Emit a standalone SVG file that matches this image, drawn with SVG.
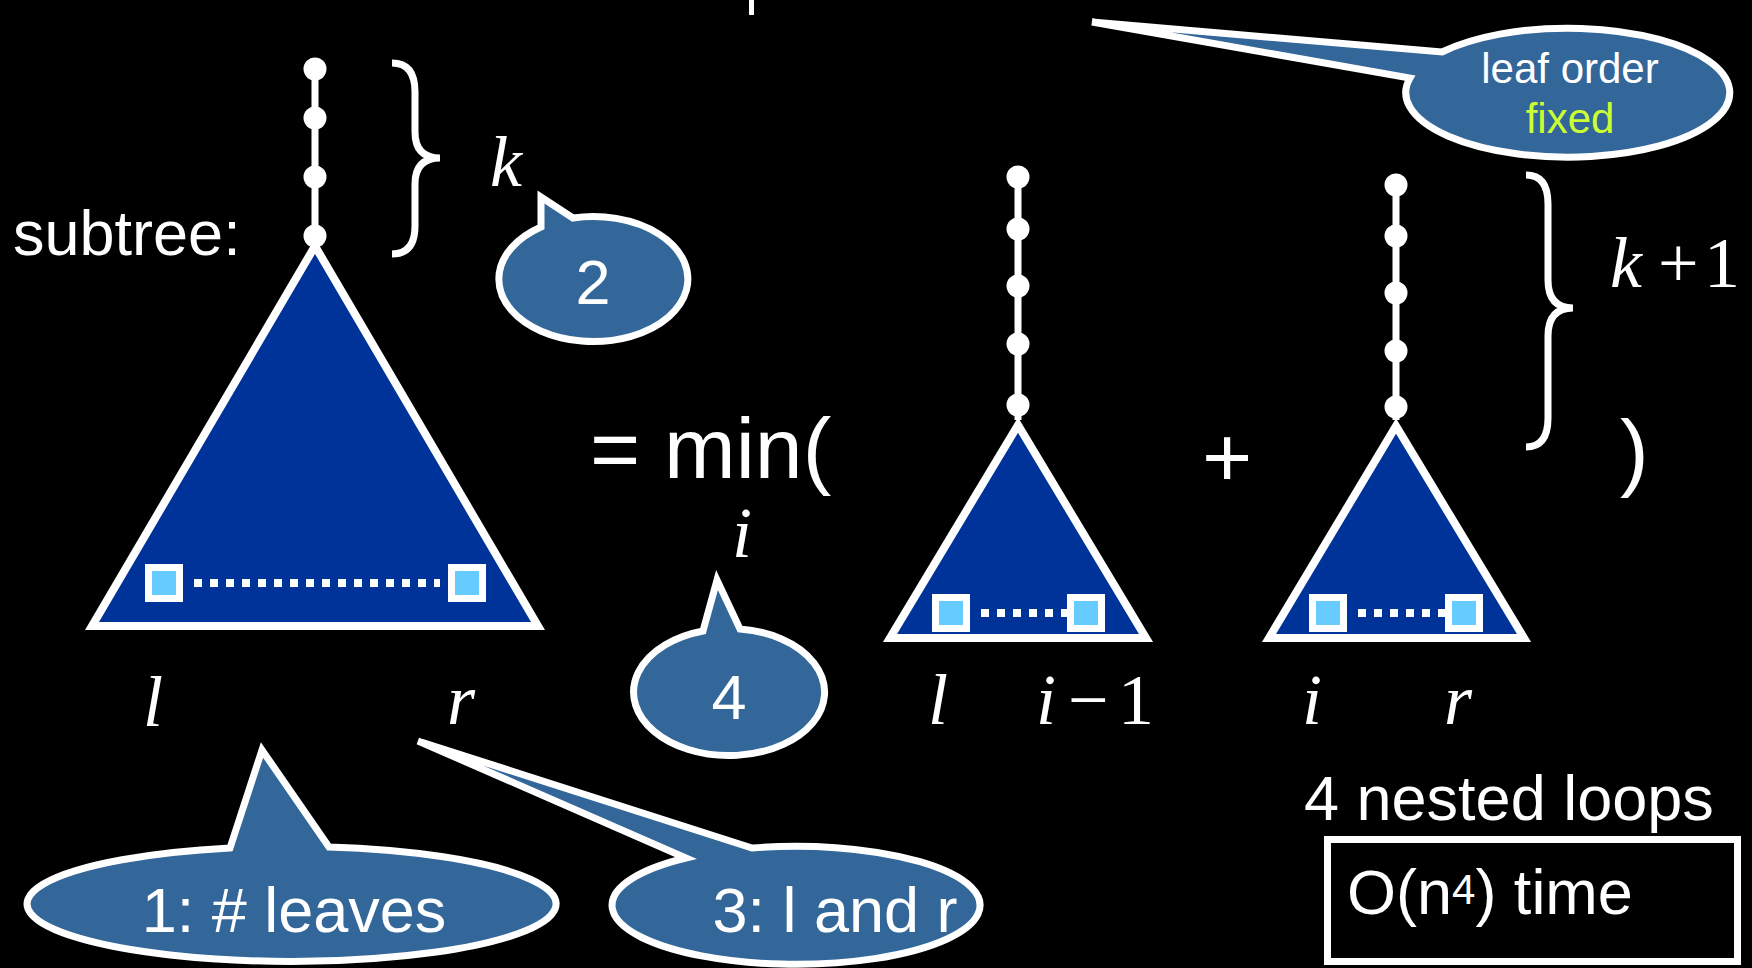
<svg xmlns="http://www.w3.org/2000/svg" width="1752" height="968" viewBox="0 0 1752 968">
<style>
.sans{font-family:"Liberation Sans",Arial,sans-serif;fill:#fff}
.serif{font-family:"Liberation Serif","Times New Roman",serif;fill:#fff;font-size:72px}
.it{font-style:italic}
.tri{fill:#003399;stroke:#fff;stroke-width:8;stroke-linejoin:miter}
.leaf{fill:#66ccff;stroke:#fff;stroke-width:7}
.dots{stroke:#fff;stroke-width:8;stroke-dasharray:8 8;fill:none}
.stem{stroke:#fff;stroke-width:7}
.node{fill:#fff}
.callout{fill:#336699;stroke:#fff;stroke-width:7;stroke-linejoin:miter}
.brace{fill:none;stroke:#fff;stroke-width:7}
</style>
<rect width="1752" height="968" fill="#000"/>
<rect x="749" y="0" width="5" height="15" fill="#fff"/>

<g id="connectors">
  <line class="stem" x1="315" y1="69" x2="315" y2="240"/>
  <line class="stem" x1="1018" y1="177" x2="1018" y2="420"/>
  <line class="stem" x1="1396" y1="185" x2="1396" y2="420"/>
</g>

<g id="tree-main">
  <path class="tri" d="M315,246 L92,626 L538,626 Z"/>
  <circle class="node" cx="315" cy="69" r="11.5"/>
  <circle class="node" cx="315" cy="118" r="11.5"/>
  <circle class="node" cx="315" cy="177" r="11.5"/>
  <circle class="node" cx="315" cy="236" r="11.5"/>
  <line class="dots" x1="194" y1="583" x2="440" y2="583"/>
  <rect class="leaf" x="148.5" y="567.5" width="31" height="31"/>
  <rect class="leaf" x="451.5" y="567.5" width="31" height="31"/>
</g>

<g id="tree-left">
  <path class="tri" d="M1018,425 L890,638 L1146,638 Z"/>
  <circle class="node" cx="1018" cy="177" r="11.5"/>
  <circle class="node" cx="1018" cy="229" r="11.5"/>
  <circle class="node" cx="1018" cy="286" r="11.5"/>
  <circle class="node" cx="1018" cy="344" r="11.5"/>
  <circle class="node" cx="1018" cy="405" r="11.5"/>
  <line class="dots" x1="981" y1="613" x2="1070" y2="613"/>
  <rect class="leaf" x="935.5" y="597.5" width="31" height="31"/>
  <rect class="leaf" x="1070.5" y="597.5" width="31" height="31"/>
</g>

<g id="tree-right">
  <path class="tri" d="M1396,426 L1269,638 L1524,638 Z"/>
  <circle class="node" cx="1396" cy="185" r="11.5"/>
  <circle class="node" cx="1396" cy="236" r="11.5"/>
  <circle class="node" cx="1396" cy="293" r="11.5"/>
  <circle class="node" cx="1396" cy="351" r="11.5"/>
  <circle class="node" cx="1396" cy="407" r="11.5"/>
  <line class="dots" x1="1358" y1="613" x2="1448" y2="613"/>
  <rect class="leaf" x="1312.5" y="597.5" width="31" height="31"/>
  <rect class="leaf" x="1448.5" y="597.5" width="31" height="31"/>
</g>

<g id="braces">
  <path class="brace" d="M392,63 Q415,63 415,92 L415,132 Q415,158 440,158 Q415,158 415,184 L415,226 Q415,254 392,254"/>
  <path class="brace" d="M1526,175 Q1548,175 1548,204 L1548,280 Q1548,308 1573,308 Q1548,308 1548,336 L1548,418 Q1548,447 1526,447"/>
</g>

<g id="labels">
  <text class="sans" x="13" y="255" font-size="63">subtree:</text>
  <text class="serif it" x="490" y="186">k</text>
  <text class="sans" x="590" y="478" font-size="86">= min(</text>
  <text class="serif it" x="732" y="557" font-size="68">i</text>
  <text class="sans" x="1202" y="487" font-size="86">+</text>
  <text class="sans" x="1620" y="480" font-size="86">)</text>
  <text class="serif" y="287"><tspan class="it" x="1610">k</tspan><tspan x="1658">+</tspan><tspan x="1704">1</tspan></text>
  <text class="serif it" x="143" y="726">l</text>
  <text class="serif it" x="447" y="724">r</text>
  <text class="serif" y="724"><tspan class="it" x="928">l</tspan><tspan class="it" x="1036">i</tspan><tspan x="1068">−</tspan><tspan x="1118">1</tspan></text>
  <text class="serif it" x="1302" y="724">i</text>
  <text class="serif it" x="1444" y="724">r</text>
  <text class="sans" x="1304" y="820" font-size="63">4 nested loops</text>
</g>

<g id="complexity-box">
  <rect x="1327.5" y="839.5" width="410" height="122" fill="none" stroke="#fff" stroke-width="7"/>
  <text class="sans" x="1347" y="914" font-size="63">O(n<tspan font-size="42" dy="-10">4</tspan><tspan dy="10">) time</tspan></text>
</g>

<g id="callout-leaf-order">
  <path class="callout" d="M1442,52 A162,64.5 0 1 1 1410,78 L1092,22 Z"/>
  <text class="sans" x="1570" y="83" font-size="42" text-anchor="middle">leaf order</text>
  <text class="sans" x="1570" y="133" font-size="42" text-anchor="middle" style="fill:#ccff33">fixed</text>
</g>

<g id="callout-2">
  <path class="callout" d="M573,218 A94.5,62.5 0 1 1 541,227 L541,197 Z"/>
  <text class="sans" x="593" y="304" font-size="63" text-anchor="middle">2</text>
</g>

<g id="callout-4">
  <path class="callout" d="M740,629 A95.5,63.5 0 1 1 703,631 L717,580 Z"/>
  <text class="sans" x="729" y="719" font-size="63" text-anchor="middle">4</text>
</g>

<g id="callout-1">
  <path class="callout" d="M329,847 A264.5,57.5 0 1 1 230,848 L262,750 Z"/>
  <text class="sans" x="294" y="932" font-size="63" text-anchor="middle">1: # leaves</text>
</g>

<g id="callout-3">
  <path class="callout" d="M752,848 A184,59 0 1 1 686,858 L418,741 Z"/>
  <text class="sans" x="835" y="932" font-size="63" text-anchor="middle">3: l and r</text>
</g>
</svg>
